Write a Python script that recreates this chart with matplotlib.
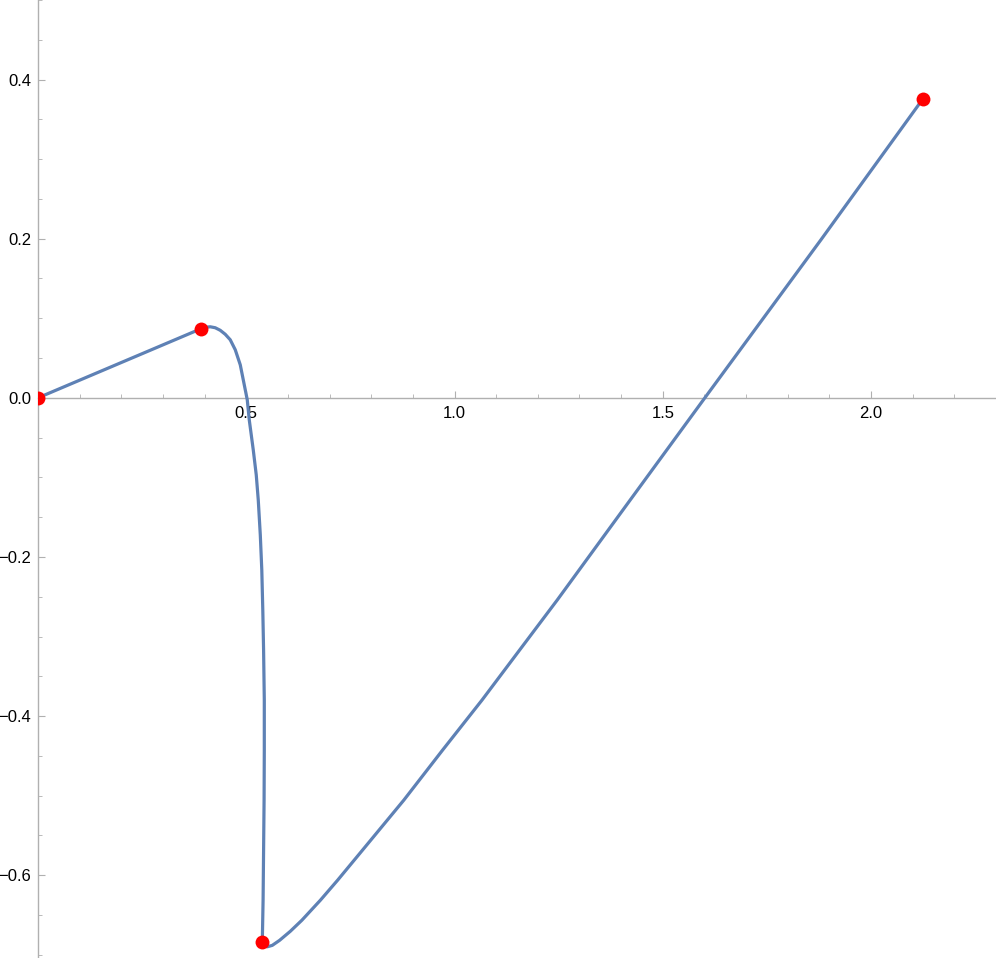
import matplotlib
matplotlib.use("Agg")
import matplotlib.pyplot as plt
from matplotlib.ticker import MultipleLocator, FixedLocator

# Curve samples
curve_x = [0.0, 0.3911, 0.4014, 0.4135, 0.4255, 0.4375, 0.4495, 0.4615, 0.4736,
           0.4856, 0.4952, 0.5024, 0.5072, 0.5168, 0.5240, 0.5288, 0.5337, 0.5373,
           0.5397, 0.5416, 0.5433, 0.5433, 0.5428, 0.5416, 0.5404, 0.5385,
           0.5433, 0.5505, 0.5625, 0.5800, 0.6058, 0.6334, 0.6779, 0.7192, 0.7788,
           0.8781, 0.9712, 1.0659, 1.1562, 1.2466, 1.4219, 1.6010, 1.8798, 2.1250]
curve_y = [0.0, 0.0868, 0.0887, 0.0893, 0.0881, 0.0849, 0.0799, 0.0730, 0.0604,
           0.0415, 0.0164, -0.0025, -0.0277, -0.0654, -0.0969, -0.1283, -0.1723, -0.2164,
           -0.2667, -0.3170, -0.3799, -0.4428, -0.5057, -0.5686, -0.6314, -0.6843,
           -0.6887, -0.6899, -0.6881, -0.6818, -0.6704, -0.6566, -0.6314, -0.6063, -0.5686,
           -0.5057, -0.4428, -0.3799, -0.3170, -0.2541, -0.1283, 0.0, 0.1987, 0.3761]

# Highlighted points
pts_x = [0.0, 0.3911, 0.5385, 2.1250]
pts_y = [0.0, 0.0868, -0.6843, 0.3761]

xticks = [0.5, 1.0, 1.5, 2.0]
xticklabels = ["0.5", "1.0", "1.5", "2.0"]
yticks = [-0.6, -0.4, -0.2, 0.0, 0.2, 0.4]
yticklabels = ["\u22120.6", "\u22120.4", "\u22120.2", "0.0", "0.2", "0.4"]

fig = plt.figure(figsize=(9.96, 9.58), dpi=100)
ax = fig.add_axes([38/996, 0, 958/996, 1])
ax.set_xlim(0, 2.30)
ax.set_ylim(-0.704, 0.50)

ax.plot(curve_x, curve_y, color=(0.368417, 0.506779, 0.709798), lw=2.3,
        solid_capstyle='round', solid_joinstyle='round', zorder=3)
ax.plot(pts_x, pts_y, 'o', color='red', markersize=10, markeredgewidth=0, zorder=4)

axis_color = '#b0b0b0'
for s in ['top', 'right']:
    ax.spines[s].set_visible(False)
ax.spines['left'].set_position(('data', 0))
ax.spines['bottom'].set_position(('data', 0))
ax.spines['left'].set_color(axis_color)
ax.spines['bottom'].set_color(axis_color)
ax.spines['left'].set_linewidth(1.0)
ax.spines['bottom'].set_linewidth(1.0)

ax.xaxis.set_major_locator(FixedLocator(xticks))
ax.set_xticklabels(xticklabels)
ax.xaxis.set_minor_locator(MultipleLocator(0.1))
ax.yaxis.set_major_locator(FixedLocator(yticks))
ax.set_yticklabels(yticklabels)
ax.yaxis.set_minor_locator(MultipleLocator(0.05))

ax.tick_params(axis='both', which='major', direction='in', length=5, width=0.8,
               color=axis_color, labelsize=12, labelcolor='black')
ax.tick_params(axis='both', which='minor', direction='in', length=3, width=0.6,
               color=axis_color)
ax.tick_params(axis='x', which='major', pad=6)
ax.tick_params(axis='y', which='major', pad=5)
for lab in ax.get_xticklabels() + ax.get_yticklabels():
    lab.set_fontfamily('Liberation Sans')

fig.savefig('out.png', dpi=100)
